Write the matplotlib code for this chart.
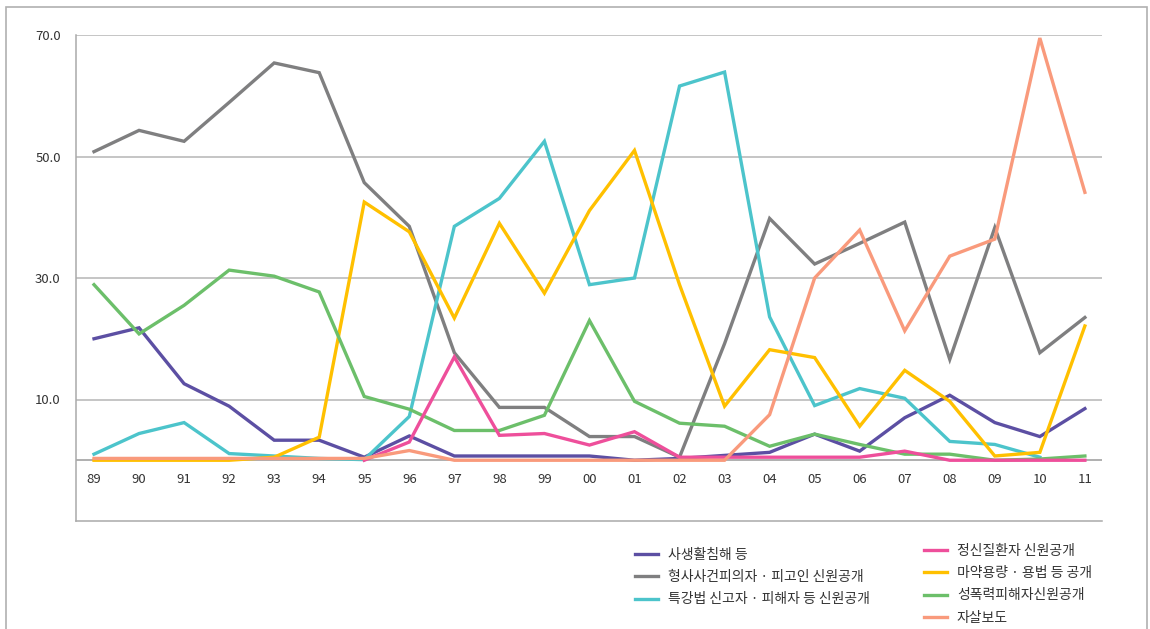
import matplotlib
matplotlib.use("Agg")
import matplotlib.pyplot as plt
import numpy as np
from matplotlib.lines import Line2D
from matplotlib.patches import Rectangle
import matplotlib.transforms as mtransforms

plt.rcParams['font.family'] = ['Noto Sans CJK KR', 'DejaVu Sans']

years = ['89', '90', '91', '92', '93', '94', '95', '96', '97', '98', '99', '00',
         '01', '02', '03', '04', '05', '06', '07', '08', '09', '10', '11']

privacy = [20.0, 21.8, 12.6, 8.9, 3.3, 3.3, 0.5, 4.0, 0.7, 0.7, 0.7, 0.7,
           0.0, 0.3, 0.8, 1.3, 4.3, 1.5, 7.0, 10.7, 6.2, 3.9, 8.5]
criminal = [50.8, 54.3, 52.5, 58.9, 65.4, 63.8, 45.7, 38.5, 17.7, 8.7, 8.7, 3.9,
            3.9, 0.5, 19.2, 39.8, 32.3, 35.7, 39.2, 16.6, 38.3, 17.7, 23.5]
informant = [1.0, 4.4, 6.2, 1.1, 0.7, 0.3, 0.1, 7.2, 38.5, 43.1, 52.5, 28.9,
             30.0, 61.6, 63.9, 23.6, 9.0, 11.8, 10.2, 3.1, 2.6, 0.5, np.nan]
mental = [np.nan, np.nan, np.nan, np.nan, np.nan, np.nan, 0.0, 3.0, 17.0, 4.1, 4.4, 2.5,
          4.7, 0.5, 0.5, 0.5, 0.5, 0.5, 1.5, 0.0, 0.0, 0.0, 0.0]
drugs = [0.0, 0.0, 0.0, 0.0, 0.5, 3.8, 42.5, 37.6, 23.4, 39.0, 27.5, 41.1,
         51.0, 28.9, 8.9, 18.2, 16.9, 5.6, 14.8, 9.7, 0.7, 1.3, 22.1]
sexual = [28.9, 20.8, 25.5, 31.3, 30.3, 27.7, 10.5, 8.4, 4.9, 4.9, 7.4, 23.0,
          9.7, 6.1, 5.6, 2.3, 4.3, 2.6, 1.0, 1.0, 0.0, 0.2, 0.7]
suicide = [0.3, 0.3, 0.3, 0.3, 0.3, 0.3, 0.3, 1.6, 0.0, 0.0, 0.0, 0.0,
           0.0, 0.0, 0.0, 7.5, 30.0, 37.9, 21.3, 33.6, 36.4, 69.5, 44.1]

labels = ['사생활침해 등', '형사사건피의자 · 피고인 신원공개', '특강법 신고자 · 피해자 등 신원공개',
          '정신질환자 신원공개', '마약용량 · 용법 등 공개', '성폭력피해자신원공개', '자살보도']
colors = ['#5c4fa3', '#7f7f80', '#4cc4cb', '#ee4f9b', '#ffc000', '#6cbf6a', '#f99a7c']
series = [privacy, criminal, informant, mental, drugs, sexual, suicide]

fig = plt.figure(figsize=(11.5, 6.29), dpi=100)
ax = fig.add_axes([76/1150, 1 - 521/629, (1102-76)/1150, (521-35)/629])

x = np.arange(len(years))
order = [0, 1, 2, 4, 5, 3, 6]
for i in order:
    ax.plot(x, series[i], color=colors[i], lw=2.4, solid_joinstyle='miter', zorder=3)

ax.set_xlim(-0.40, 22.38)
ax.set_ylim(-10, 70)

for yv in [10, 30, 50, 70]:
    ax.axhline(yv, color='#b5b5b5', lw=1.1, zorder=1)
ax.axhline(0, color='#9a9a9a', lw=1.1, zorder=1)

for s in ['top', 'right']:
    ax.spines[s].set_visible(False)
for s in ['left', 'bottom']:
    ax.spines[s].set_color('#aaaaaa')
    ax.spines[s].set_linewidth(1.1)

ax.set_yticks([10, 30, 50, 70])
ax.set_yticklabels(['10.0', '30.0', '50.0', '70.0'])
ax.tick_params(axis='y', length=0, pad=11, labelsize=9.5, labelcolor='#333333')
ax.set_xticks([])

trans = mtransforms.blended_transform_factory(ax.transData, ax.transData)
for xi, yl in zip(x, years):
    ax.text(xi, -3.2, yl, ha='center', va='center', fontsize=9.5, color='#333333',
            transform=trans)

# outer frame
fig.patches.append(Rectangle((6/1150, -0.05), (1147-6)/1150, 1.05 - 7/629,
                             transform=fig.transFigure, fill=False,
                             edgecolor='#b0b0b0', lw=1.2))

handles = [Line2D([], [], color=c, lw=2.4) for c in colors]
common = dict(loc='upper left', frameon=False, fontsize=10, handlelength=1.65,
              handletextpad=0.72, labelspacing=0.59, borderpad=0, borderaxespad=0)
leg1 = fig.legend(handles[:3], labels[:3], bbox_to_anchor=(635/1150, 1 - 548/629), **common)
leg2 = fig.legend(handles[3:], labels[3:], bbox_to_anchor=(924/1150, 1 - 544/629), **common)
for lg in (leg1, leg2):
    for t in lg.get_texts():
        t.set_color('#333333')

fig.savefig('out.png', dpi=100)
